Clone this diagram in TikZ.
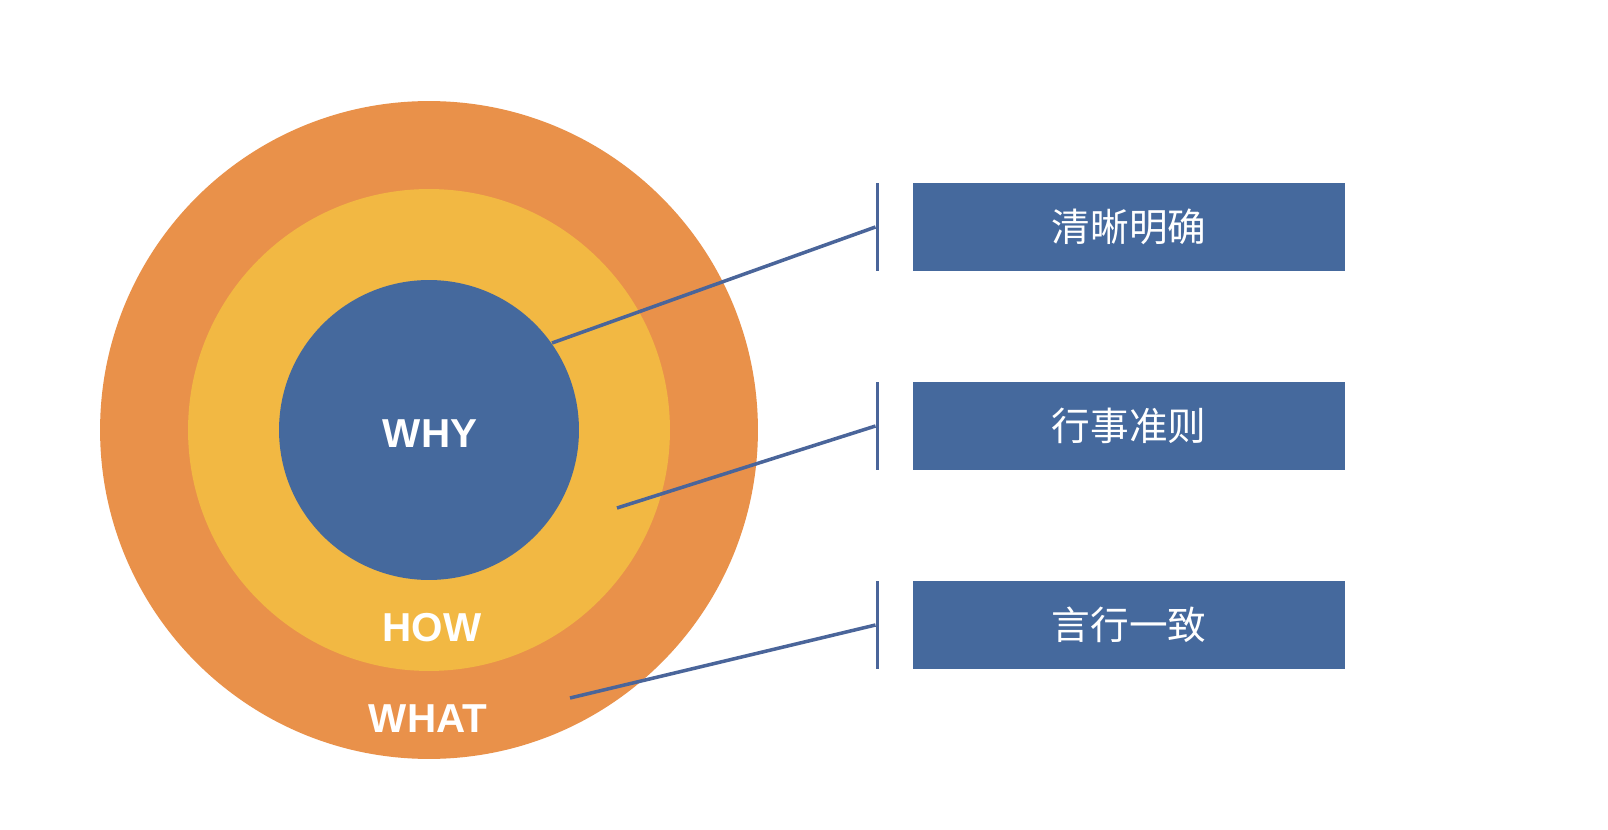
\documentclass[tikz,border=0pt]{standalone}
\usepackage{fontspec}
\setmainfont{Liberation Sans}
\newfontfamily\cjkfont{Noto Sans CJK SC}
\usepackage{tikz}
\usetikzlibrary{positioning}
\definecolor{ringorange}{HTML}{E9914A}
\definecolor{ringyellow}{HTML}{F2B843}
\definecolor{coreblue}{HTML}{45699D}
\definecolor{linkblue}{HTML}{4A659A}
\tikzset{
  ring/.style={circle,inner sep=0pt},
  ringlabel/.style={anchor=base,text=white,
    font=\fontsize{23}{25}\selectfont\bfseries},
  link/.style={draw=linkblue,line width=2pt}}

\begin{document}
\begin{tikzpicture}[x=0.02cm,y=-0.02cm,
  tagbox/.style={rectangle,fill=coreblue,text=white,inner sep=0pt,
    minimum width=8.66cm,minimum height=1.78cm,
    font=\cjkfont\fontsize{22}{24}\selectfont},
  tagbar/.style={rectangle,fill=linkblue,inner sep=0pt,
    minimum width=0.07cm,minimum height=1.78cm}]
  \useasboundingbox[fill=white] (0,0) rectangle (1608,830);

  \node[ring,fill=ringorange,minimum size=13.16cm] (outer) at (429,430) {};
  \node[ring,fill=ringyellow,minimum size=9.64cm] (middle) at (429,430) {};
  \node[ring,fill=coreblue,minimum size=6cm] (core) at (429,430) {};

  \node[ringlabel] (why) at (430,448) {WHY};
  \node[ringlabel] (how) at (432,641) {HOW};
  \node[ringlabel] (what) at (428,732) {WHAT};

  \node[tagbox] (box1) at (1129,227) {清晰明确};
  \node[tagbox] (box2) at (1129,426) {行事准则};
  \node[tagbox] (box3) at (1129,625) {言行一致};

  \node[tagbar,left=0.65cm of box1] (bar1) {};
  \node[tagbar,left=0.65cm of box2] (bar2) {};
  \node[tagbar,left=0.65cm of box3] (bar3) {};

  \coordinate (whyend) at (552,343);
  \coordinate (howend) at (617,508);
  \coordinate (whatend) at (570,698);

  \draw[link] (whyend) -- (bar1.west);
  \draw[link] (howend) -- (bar2.west);
  \draw[link] (whatend) -- (bar3.west);
\end{tikzpicture}
\end{document}
